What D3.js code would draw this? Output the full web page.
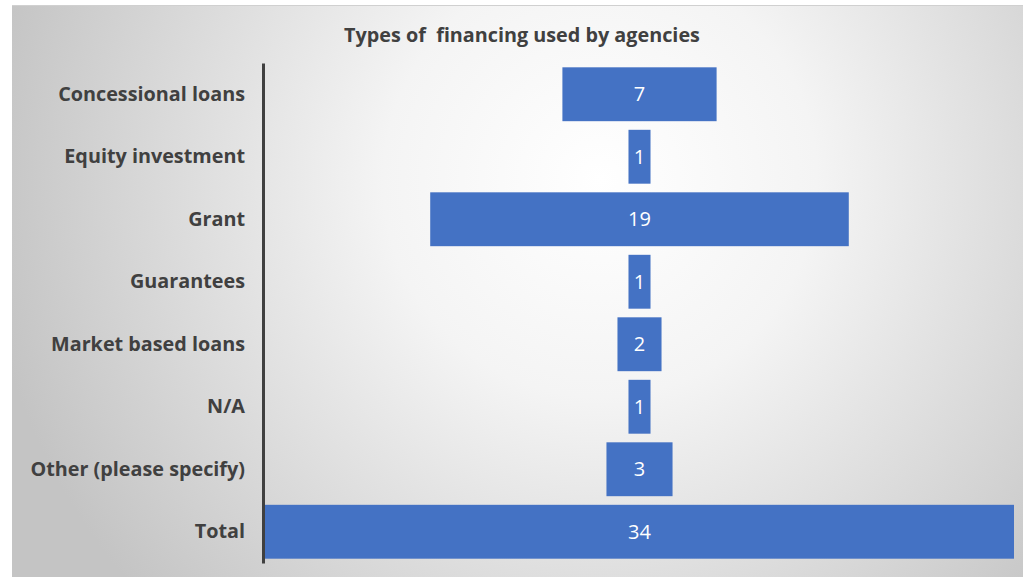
<!DOCTYPE html>
<html>
<head>
<meta charset="utf-8">
<script src="https://cdn.jsdelivr.net/npm/d3@7"></script>
<style>
  html, body { margin: 0; padding: 0; background: #ffffff; }
  svg { display: block; }
</style>
</head>
<body>
<svg id="chart" width="1023" height="577"></svg>
<script>
// Financing types and how many agencies use each
const categories = [
  "Concessional loans",
  "Equity investment",
  "Grant",
  "Guarantees",
  "Market based loans",
  "N/A",
  "Other (please specify)",
  "Total"
];
const counts = [7, 1, 19, 1, 2, 1, 3, 34];
const chartTitle = "Types of  financing used by agencies";

const svg = d3.select("#chart");
const W = 1023, H = 577;

// Panel background: soft radial grey fade
const defs = svg.append("defs");
const grad = defs.append("radialGradient")
  .attr("id", "bgFade")
  .attr("gradientUnits", "userSpaceOnUse")
  .attr("cx", 600).attr("cy", 180).attr("r", 620);
grad.append("stop").attr("offset", "0%").attr("stop-color", "#ffffff");
grad.append("stop").attr("offset", "35%").attr("stop-color", "#f4f4f4");
grad.append("stop").attr("offset", "100%").attr("stop-color", "#c4c4c4");

svg.append("rect")
  .attr("x", 12).attr("y", 5)
  .attr("width", W - 12).attr("height", H - 5)
  .attr("fill", "url(#bgFade)");
svg.append("line")
  .attr("x1", 12).attr("x2", W).attr("y1", 5.5).attr("y2", 5.5)
  .attr("stroke", "#d0d0d0").attr("stroke-width", 1);

const margin = { left: 265, right: 9, top: 63, bottom: 14 };
const plotW = W - margin.left - margin.right;

const y = d3.scaleBand()
  .domain(categories)
  .range([margin.top, H - margin.bottom])
  .paddingInner(0.138)
  .paddingOuter(0.069);

const maxV = d3.max(counts);
const x = d3.scaleLinear().domain([-maxV / 2, maxV / 2])
  .range([margin.left, margin.left + plotW]);

const rows = categories.map((c, i) => ({ cat: c, v: counts[i] }));

// Centered (funnel style) bars
svg.append("g").selectAll("rect")
  .data(rows)
  .join("rect")
  .attr("x", d => x(-d.v / 2))
  .attr("width", d => x(d.v / 2) - x(-d.v / 2))
  .attr("y", d => y(d.cat))
  .attr("height", y.bandwidth())
  .attr("fill", "#4472c4");

// Value labels
svg.append("g").selectAll("text")
  .data(rows)
  .join("text")
  .attr("x", x(0))
  .attr("y", d => y(d.cat) + y.bandwidth() / 2)
  .attr("dy", "0.36em")
  .attr("text-anchor", "middle")
  .attr("fill", "#ffffff")
  .attr("font-family", "'Open Sans', sans-serif")
  .attr("font-size", 20)
  .text(d => d.v);

// Category axis
const yAxis = d3.axisLeft(y).tickSize(0).tickPadding(18);
const gy = svg.append("g")
  .attr("transform", `translate(${margin.left - 2},0)`)
  .call(yAxis);
gy.select(".domain")
  .attr("stroke", "#404040")
  .attr("stroke-width", 3);
gy.selectAll("text")
  .attr("fill", "#404040")
  .attr("font-family", "'Open Sans', sans-serif")
  .attr("font-weight", "bold")
  .attr("font-size", 19.8);

// Title
svg.append("text")
  .attr("x", 522)
  .attr("y", 42)
  .attr("text-anchor", "middle")
  .attr("fill", "#404040")
  .attr("font-family", "'Open Sans', sans-serif")
  .attr("font-weight", "bold")
  .attr("font-size", 19.8)
  .style("white-space", "pre")
  .text(chartTitle);
</script>
</body>
</html>
